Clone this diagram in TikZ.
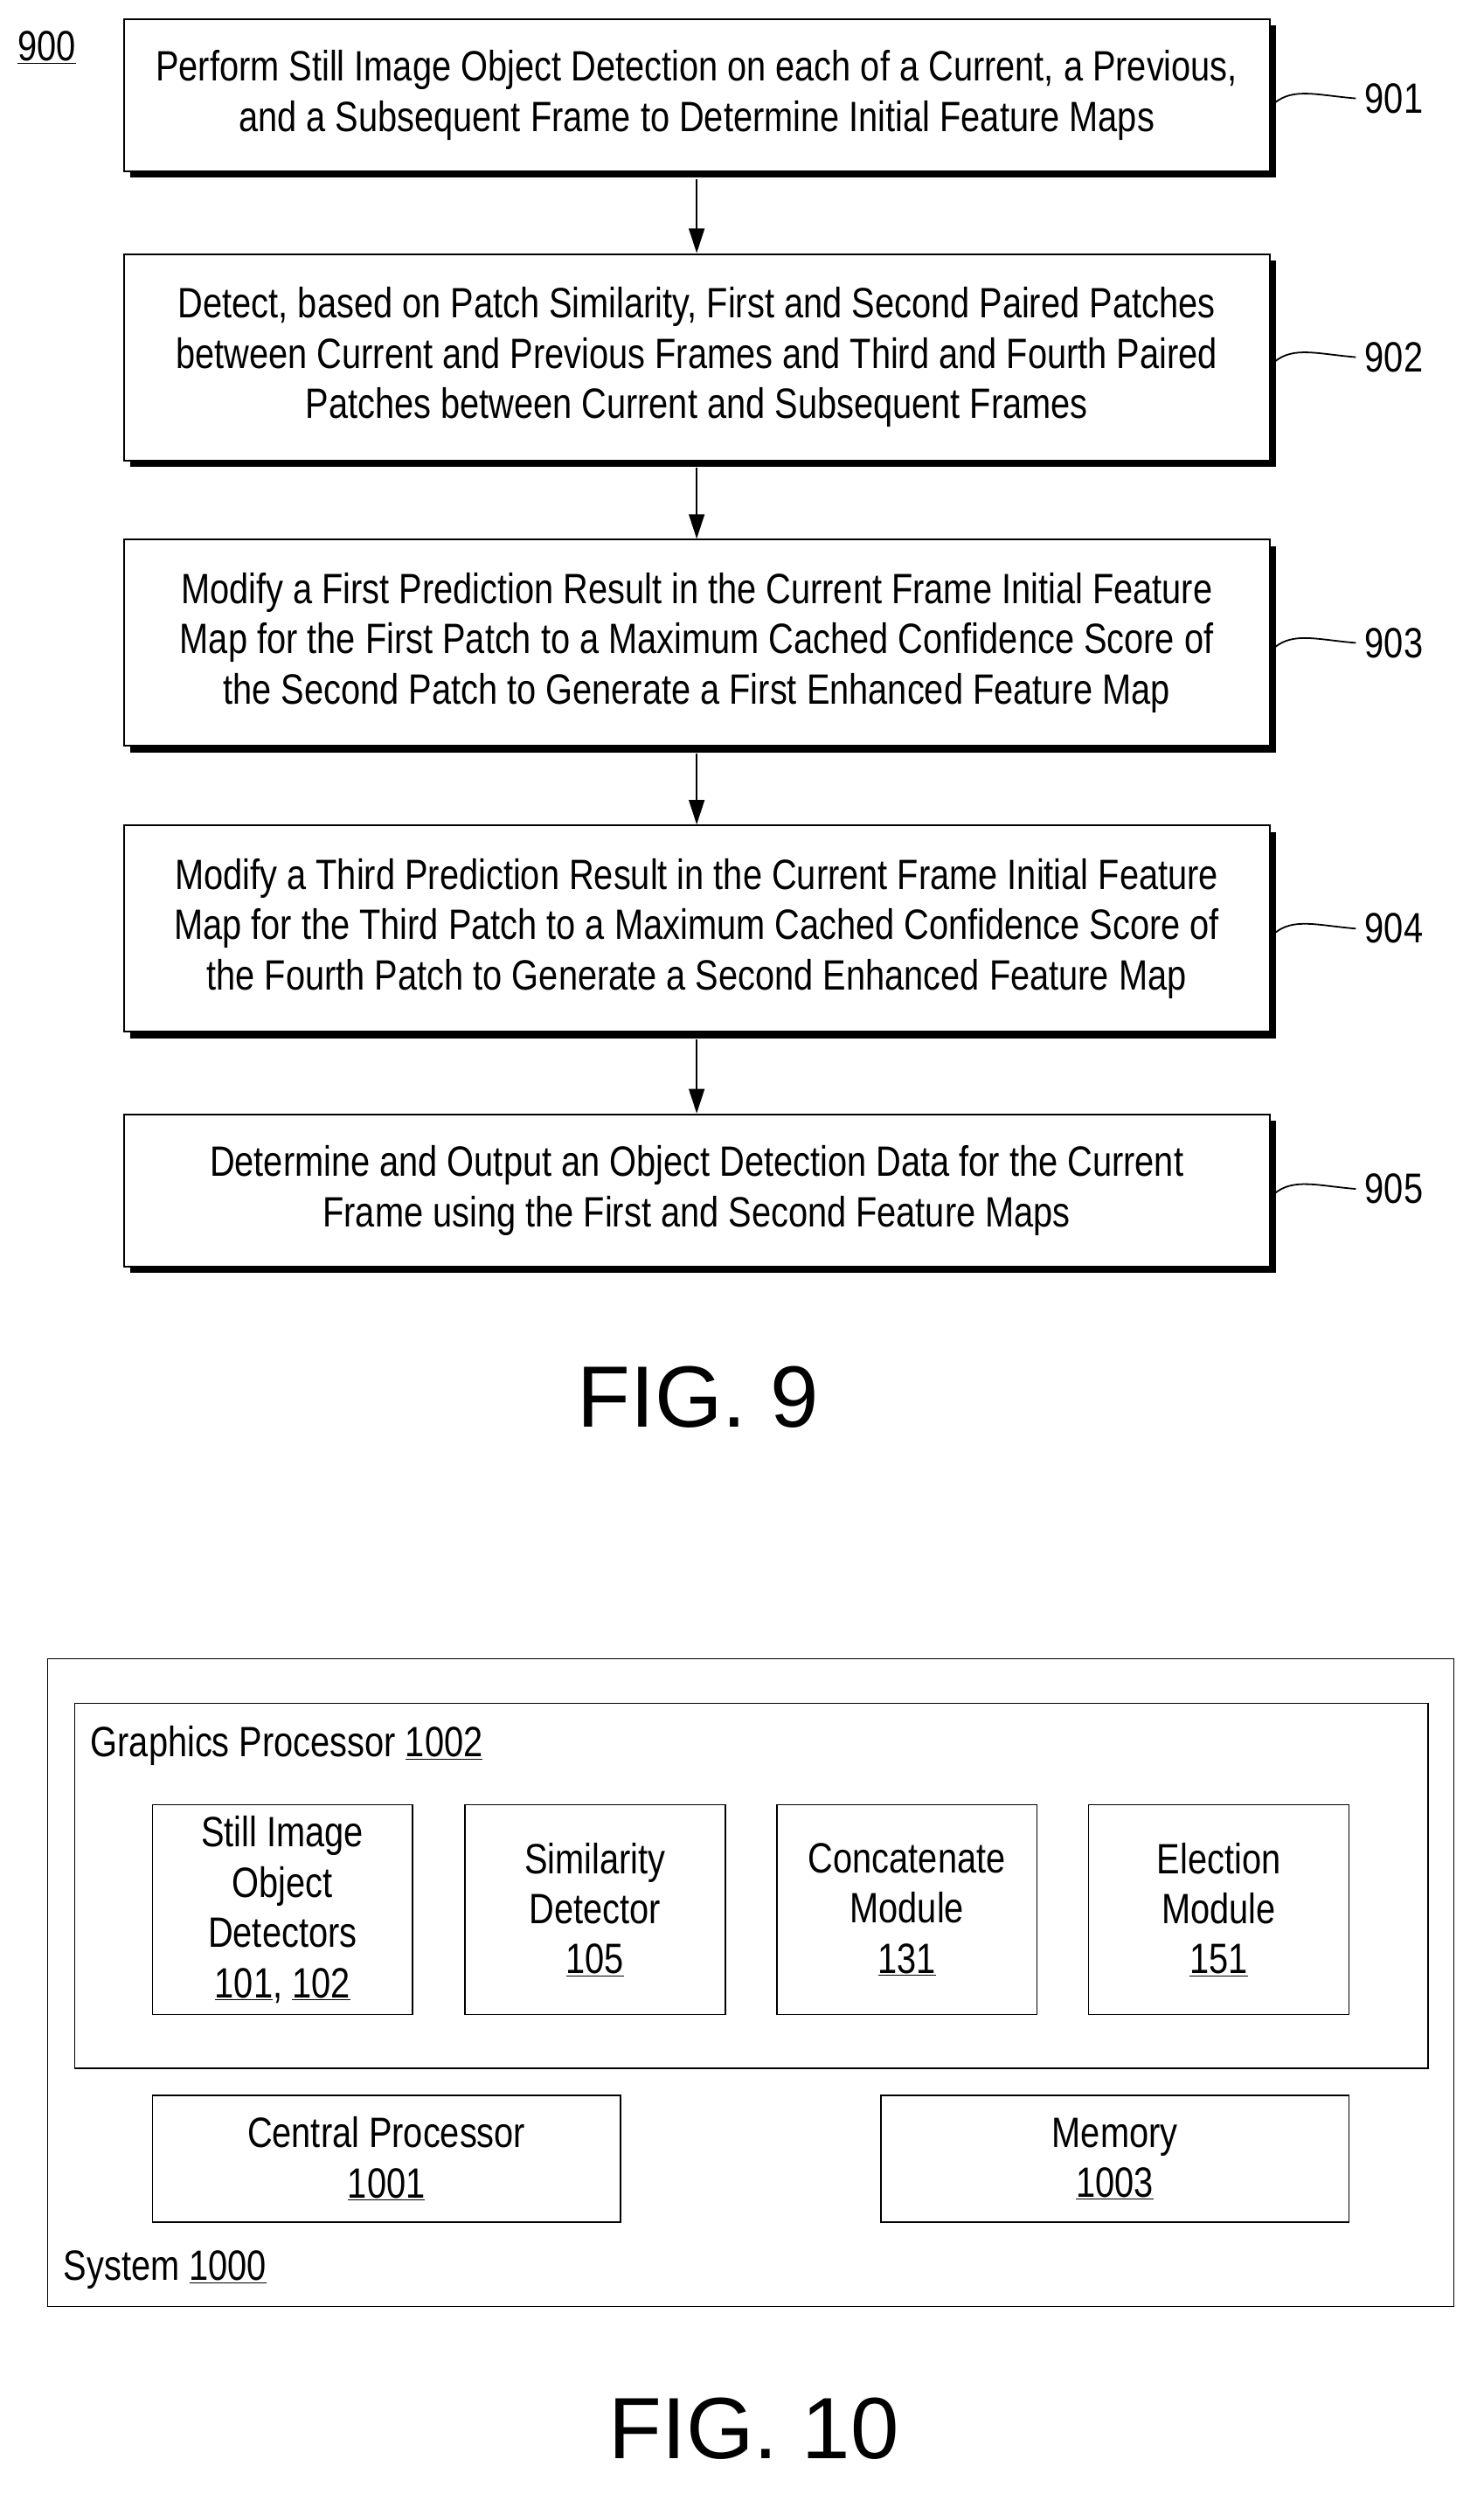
\documentclass[tikz,border=0pt]{standalone}
\usepackage{fontspec}
\setmainfont{Liberation Sans}[FakeStretch=0.82]
\newfontfamily\figfont{Liberation Sans}
\usetikzlibrary{arrows.meta}
\begin{document}
\begin{tikzpicture}[x=0.05cm,y=-0.05cm,
  box/.style={draw,line width=1.6pt,fill=white,inner sep=0pt,align=center,font=\fontsize{38}{45}\selectfont},
  plain/.style={draw,line width=1.2pt,fill=white,inner sep=0pt,align=center,font=\fontsize{38}{45}\selectfont},
  lbl/.style={font=\fontsize{38}{45}\selectfont,anchor=west,inner sep=0pt},
  arr/.style={-{Triangle[length=22pt,width=14pt]},line width=1.4pt},
  lead/.style={line width=1.4pt}]
\useasboundingbox (0,0) rectangle (935,1580);
\newcommand{\shbox}[6]{% name, x1,y1,x2,y2, text
  \fill (#2+4,#3+4) rectangle (#4+4,#5+4);
  \node[box,minimum width=(#4-#2)*0.05cm,minimum height=(#5-#3)*0.05cm] (#1) at ({(#2+#4)/2},{(#3+#5)/2}) {#6};}
\shbox{b1}{78}{12}{800}{108}{Perform Still Image Object Detection on each of a Current, a Previous,\\and a Subsequent Frame to Determine Initial Feature Maps}
\shbox{b2}{78}{160}{800}{290}{Detect, based on Patch Similarity, First and Second Paired Patches\\between Current and Previous Frames and Third and Fourth Paired\\Patches between Current and Subsequent Frames}
\shbox{b3}{78}{340}{800}{470}{Modify a First Prediction Result in the Current Frame Initial Feature\\Map for the First Patch to a Maximum Cached Confidence Score of\\the Second Patch to Generate a First Enhanced Feature Map}
\shbox{b4}{78}{520}{800}{650}{Modify a Third Prediction Result in the Current Frame Initial Feature\\Map for the Third Patch to a Maximum Cached Confidence Score of\\the Fourth Patch to Generate a Second Enhanced Feature Map}
\shbox{b5}{78}{702}{800}{798}{Determine and Output an Object Detection Data for the Current\\Frame using the First and Second Feature Maps}
\foreach \a/\b in {b1/b2,b2/b3,b3/b4,b4/b5}{
  \draw[arr] ([yshift=-6pt]\a.south) -- (\b.north);}
\foreach \n/\y in {1/62,2/225,3/405,4/585,5/749}{
  \node[lbl] (l\n) at (860,\y) {90\n};
  \draw[lead] (803,\y+3) .. controls (815,\y-7) and (830,\y-2) .. ([xshift=-8pt]l\n.west);}
\node[lbl] (n900) at (11,30) {\underline{900}};
\node[font=\figfont\fontsize{78}{86}\selectfont] (f9) at (440,880) {FIG. 9};
% FIG 10
\node[plain,minimum width=886*0.05cm,minimum height=408*0.05cm] (sys) at (473,1249) {};
\node[plain,minimum width=853*0.05cm,minimum height=230*0.05cm] (gp) at (473.5,1188) {};
\node[lbl] (gpl) at (57,1100) {Graphics Processor \underline{1002}};
\node[lbl] (sysl) at (40,1430) {System \underline{1000}};
\foreach \nm/\x/\t in {d1/178/{Still Image\\Object\\Detectors\\\underline{101}, \underline{102}},d2/375/{Similarity\\Detector\\\underline{105}},d3/571.5/{Concatenate\\Module\\\underline{131}},d4/768/{Election\\Module\\\underline{151}}}
  \node[plain,minimum width=164*0.05cm,minimum height=132*0.05cm] (\nm) at (\x,1203) {\t};
\node[plain,minimum width=295*0.05cm,minimum height=80*0.05cm] (cp) at (243.5,1360) {Central Processor\\\underline{1001}};
\node[plain,minimum width=295*0.05cm,minimum height=80*0.05cm] (mem) at (702.5,1360) {Memory\\\underline{1003}};
\node[font=\figfont\fontsize{78}{86}\selectfont] (f10) at (475,1530) {FIG. 10};
\end{tikzpicture}
\end{document}
